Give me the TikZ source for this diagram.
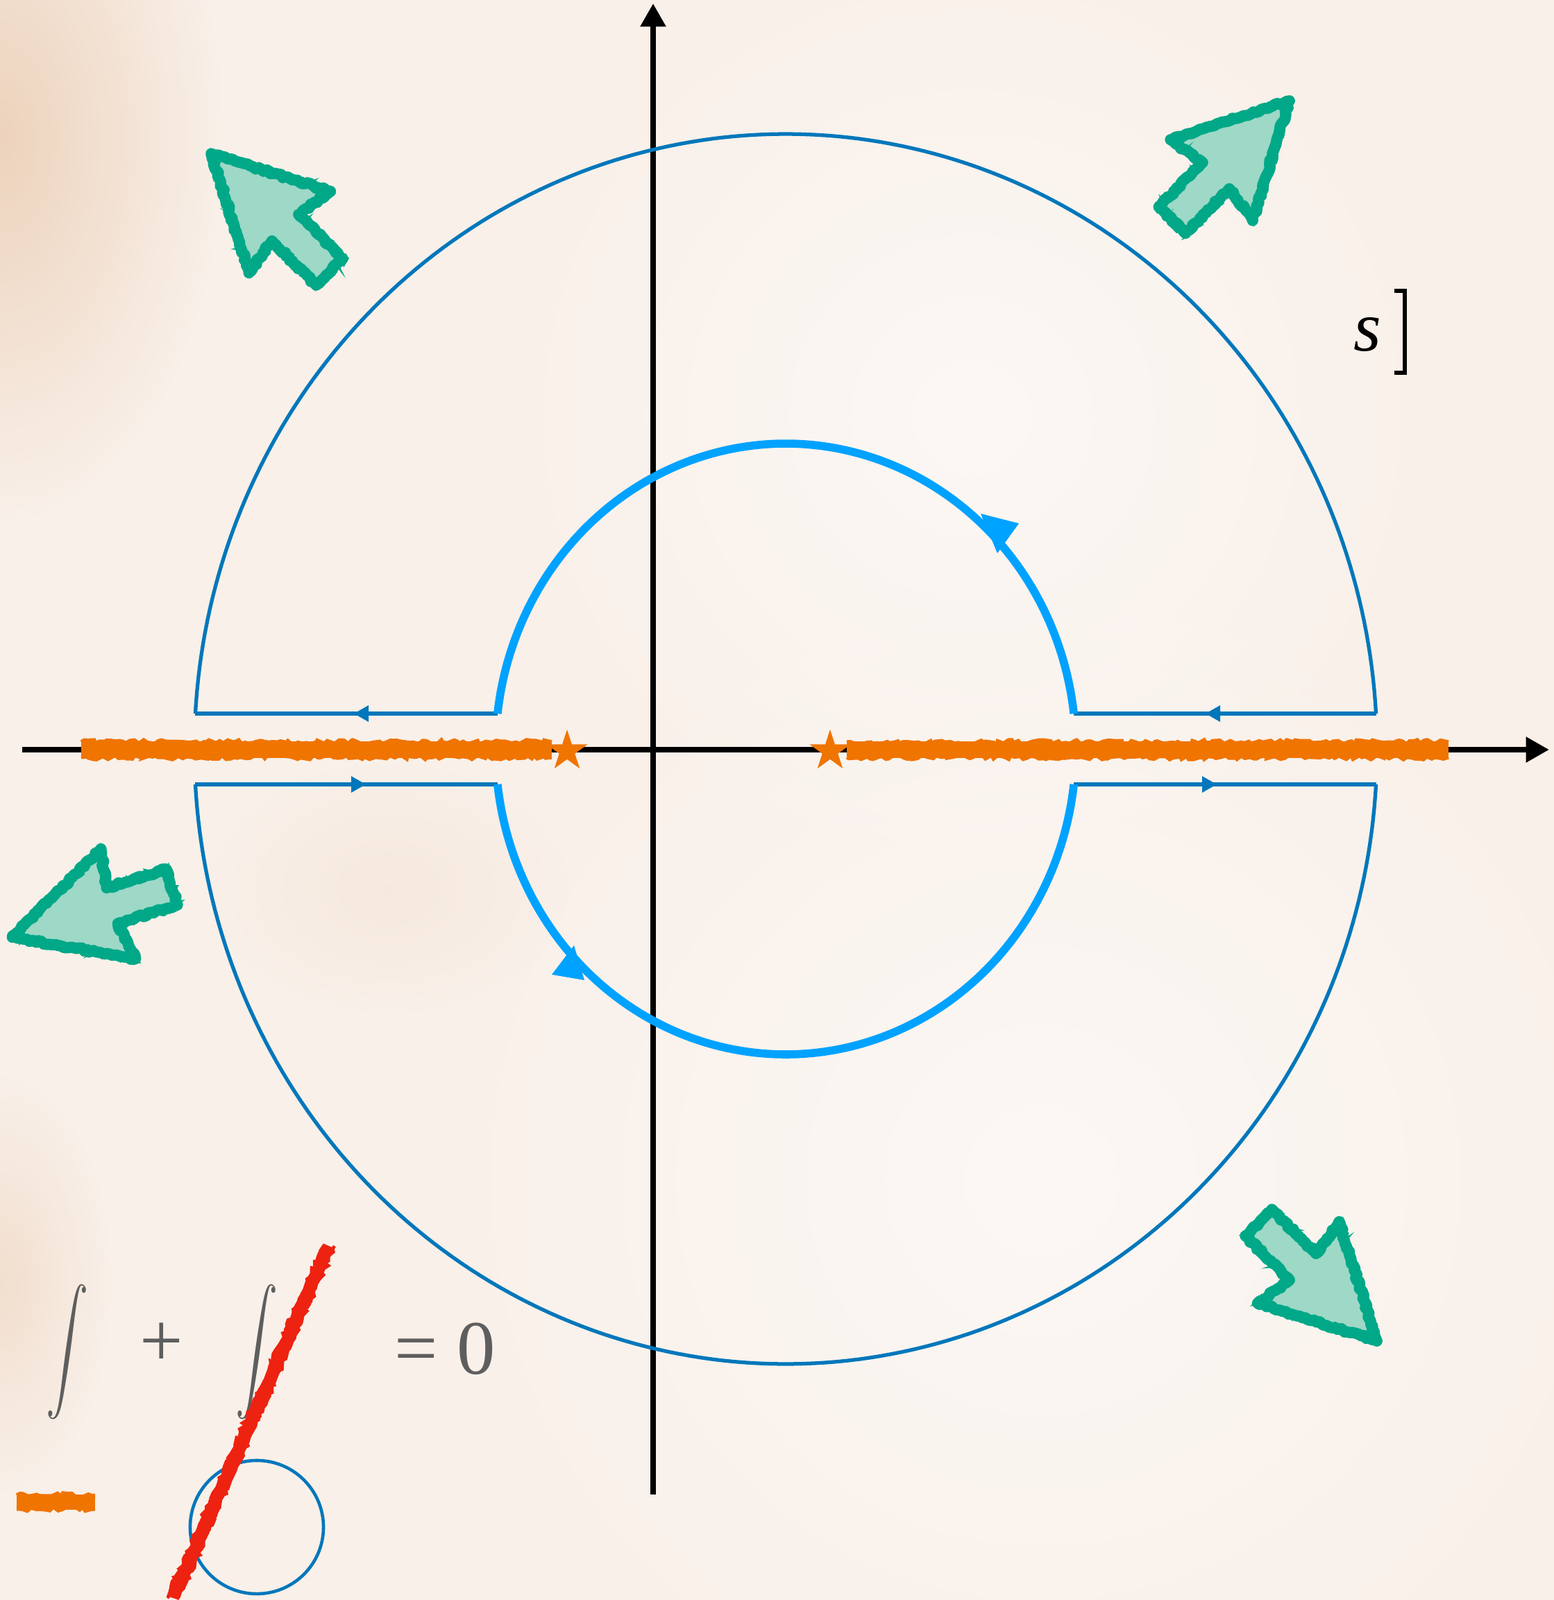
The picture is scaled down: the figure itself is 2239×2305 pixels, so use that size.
\documentclass[tikz,border=0pt]{standalone}
\usepackage{fontspec}
\setmainfont{Liberation Serif}
\usepackage{exscale}
\usetikzlibrary{arrows.meta,shapes.geometric,decorations.pathmorphing,fadings}
\tikzfading[name=blobfade, inner color=transparent!0, outer color=transparent!100]
\definecolor{bgc}{HTML}{F9F0E9}
\definecolor{tanc}{HTML}{EDD3BC}
\definecolor{lightc}{HTML}{FCF8F5}
\definecolor{dblue}{HTML}{0077BB}
\definecolor{lblue}{HTML}{00A2FF}
\definecolor{orangec}{HTML}{F07400}
\definecolor{gline}{HTML}{00A888}
\definecolor{gfill}{HTML}{9ED8C6}
\definecolor{redc}{HTML}{EE2210}
\definecolor{grayc}{HTML}{5E5E5E}
\tikzset{
  outerc/.style={draw=dblue, line width=1.5pt},
  innerc/.style={draw=lblue, line width=3.3pt},
  axisline/.style={draw=black, line width=2.3pt, -{Triangle[length=9.5pt,width=10pt]}},
  cutcore/.style={draw=orangec, line width=6.8pt},
  cutedge/.style={draw=orangec, line width=1.5pt, decorate,
    decoration={random steps, segment length=1.6pt, amplitude=0.9pt}},
  redcore/.style={draw=redc, line width=5.2pt, decorate,
    decoration={random steps, segment length=2pt, amplitude=0.5pt}},
  rededge/.style={draw=redc, line width=1.3pt, decorate,
    decoration={random steps, segment length=1.5pt, amplitude=1pt}},
  gtext/.style={text=grayc, inner sep=0pt},
  garrowshape/.pic={
    \fill[gfill] (-6,0) -- (-166,-83) -- (-157,-27) -- (-247,-27) -- (-247,27) -- (-157,27) -- (-166,83) -- cycle;
    \draw[gline, line width=4.6pt, line join=round, decorate,
      decoration={random steps, segment length=1.2pt, amplitude=0.55pt}]
      (-6,0) -- (-166,-83) -- (-157,-27) -- (-247,-27) -- (-247,27) -- (-157,27) -- (-166,83) -- cycle;
    \draw[gline, line width=0.9pt, decorate,
      decoration={random steps, segment length=1pt, amplitude=1.1pt}]
      (-2,0) -- (-169,-88) -- (-160,-31) -- (-251,-31) -- (-251,31) -- (-160,31) -- (-169,88) -- cycle;
  }
}
\begin{document}
\begin{tikzpicture}[x=0.01cm,y=-0.01cm]
\useasboundingbox (0,0) rectangle (2239,2305);
% background paper
\fill[bgc] (0,0) rectangle (2239,2305);
\fill[lightc, path fading=blobfade] (1500,1700) circle (9cm);
\fill[lightc, path fading=blobfade] (1400,600) circle (7cm);
\fill[tanc, path fading=blobfade] (0,200) ellipse [x radius=3.2cm, y radius=5.5cm];
\fill[tanc, path fading=blobfade, opacity=0.6] (0,1850) ellipse [x radius=1.6cm, y radius=3cm];
\fill[tanc, path fading=blobfade, opacity=0.25] (560,1280) ellipse [x radius=2.6cm, y radius=1.8cm];

% axes
\coordinate (xs) at (32,1080);
\coordinate (xe) at (2232,1080);
\coordinate (ys) at (941,2153);
\coordinate (ye) at (941,5);
\draw[axisline] (xs) -- (xe);
\draw[axisline] (ys) -- (ye);

% contour end points
\coordinate (OUL) at (281.4,1028);
\coordinate (IUL) at (716.8,1028);
\coordinate (IUR) at (1547.2,1028);
\coordinate (OUR) at (1982.6,1028);
\coordinate (OLL) at (281.4,1130);
\coordinate (ILL) at (716.8,1130);
\coordinate (ILR) at (1547.2,1130);
\coordinate (OLR) at (1982.6,1130);

% outer arcs
\draw[outerc] plot[domain=3.3:176.7, samples=160] ({1132+852*cos(\x)},{1079-886*sin(\x)});
\draw[outerc] plot[domain=183.3:356.7, samples=160] ({1132+852*cos(\x)},{1079-886*sin(\x)});
% straight pieces
\draw[outerc] (IUL) -- (OUL);
\draw[outerc] (OLL) -- (ILL);
\draw[outerc] (OUR) -- (IUR);
\draw[outerc] (ILR) -- (OLR);
% small arrow heads
\fill[dblue] (510,1028) -- (531,1016) -- (531,1040) -- cycle;
\fill[dblue] (527,1130) -- (506,1118) -- (506,1142) -- cycle;
\fill[dblue] (1737,1028) -- (1758,1016) -- (1758,1040) -- cycle;
\fill[dblue] (1753,1130) -- (1732,1118) -- (1732,1142) -- cycle;

% inner arcs
\draw[innerc] plot[domain=6.65:173.35, samples=120] ({1132+418*cos(\x)},{1079-440*sin(\x)});
\draw[innerc] plot[domain=186.65:353.35, samples=120] ({1132+418*cos(\x)},{1079-440*sin(\x)});
\fill[lblue] (1413,740) -- (1468,754) -- (1437,797) -- cycle;
\fill[lblue] (842,1412) -- (827,1362) -- (795,1404) -- cycle;

% branch cuts
\coordinate (cl1) at (117,1080);
\coordinate (cl2) at (795,1080);
\coordinate (cr1) at (1220,1080);
\coordinate (cr2) at (2087,1080);
\foreach \a/\b in {cl1/cl2, cr1/cr2}{
  \draw[cutcore] (\a) -- (\b);
  \draw[cutedge] ([yshift=0.11cm]\a) -- ([yshift=0.11cm]\b);
  \draw[cutedge] ([yshift=-0.11cm]\a) -- ([yshift=-0.11cm]\b);
}
\node[star, star points=5, star point ratio=2.618, minimum size=0.62cm, inner sep=0pt, fill=orangec] (star1) at (817,1082) {};
\node[star, star points=5, star point ratio=2.618, minimum size=0.62cm, inner sep=0pt, fill=orangec] (star2) at (1196,1082) {};

% green arrows
\pic[rotate=135] at (300,217) {garrowshape};
\pic[rotate=45.5] at (1862,141) {garrowshape};
\pic[rotate=197.5] at (12,1352) {garrowshape};
\pic[rotate=-45] at (1988,1936) {garrowshape};

% s label
\node[font={\fontsize{29}{34}\selectfont\itshape}, inner sep=0pt, anchor=base] (slabel) at (1970,505) {s};
\draw[black, line width=1.6pt] (2009,419) -- (2024,419) -- (2024,537) -- (2009,537);

% equation
\node[gtext, font={\fontsize{32}{36}\selectfont}, xscale=0.7, transform shape, anchor=base] (int1) at (97,1970) {$\displaystyle\int$};
\node[gtext, font={\fontsize{32}{36}\selectfont}, xscale=0.7, transform shape, anchor=base] (int2) at (370,1970) {$\displaystyle\int$};
\node[gtext, font={\fontsize{31.5}{36}\selectfont}, anchor=base] (plus) at (233,1968) {+};
\node[gtext, font={\fontsize{31.5}{36}\selectfont}, anchor=base] (eqz) at (641,1979) {= 0};
\coordinate (od1) at (24,2164);
\coordinate (od2) at (137,2164);
\draw[cutcore, line width=6.4pt] (od1) -- (od2);
\draw[cutedge] ([yshift=0.1cm]od1) -- ([yshift=0.1cm]od2);
\draw[cutedge] ([yshift=-0.1cm]od1) -- ([yshift=-0.1cm]od2);
\node[draw=dblue, line width=1.3pt, circle, minimum size=1.92cm, inner sep=0pt] (smallc) at (370,2200) {};
\coordinate (r1) at (474,1795);
\coordinate (r2) at (249,2302);
\draw[redcore] (r1) -- (r2);
\draw[rededge] ([xshift=0.08cm]r1) -- ([xshift=0.08cm]r2);
\draw[rededge] ([xshift=-0.08cm]r1) -- ([xshift=-0.08cm]r2);
\end{tikzpicture}
\end{document}
